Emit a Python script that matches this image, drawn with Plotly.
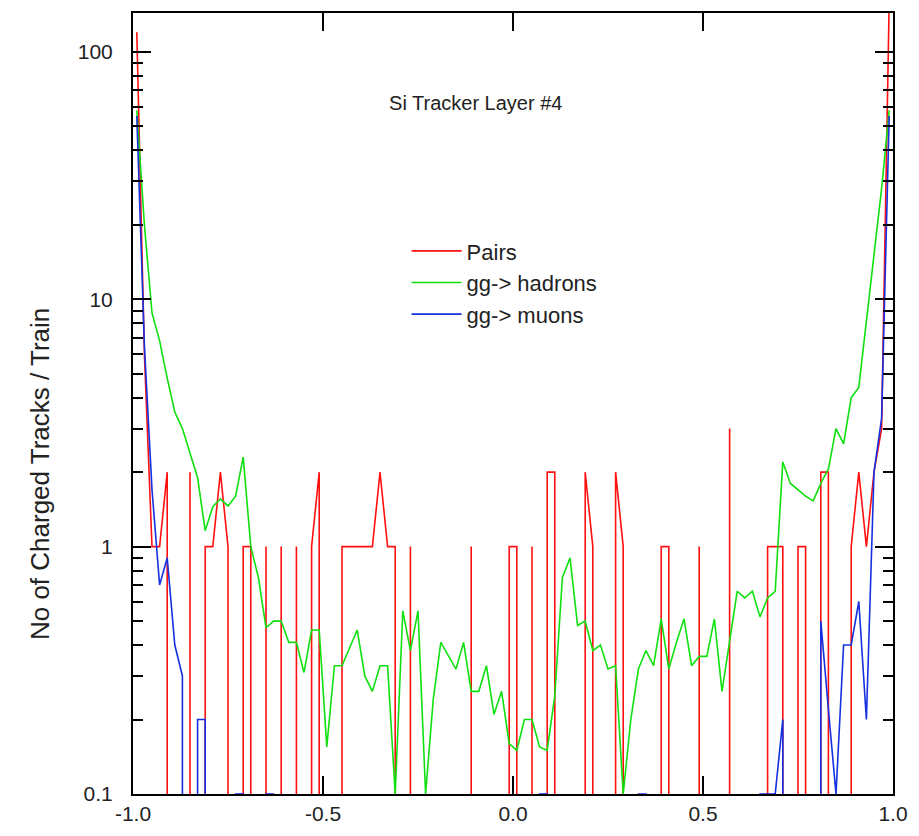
import plotly.graph_objects as go

# Bin centres in eta (100 bins of width 0.02 from -1 to 1)
n_bins = 100
eta_centres = [round(-0.99 + 0.02 * i, 2) for i in range(n_bins)]

pairs = [
    120, 6, 1, 1, 2, 0, 0, 2, 0, 1,
    1, 2, 1, 0, 1, 1, 0, 1, 0, 1,
    0, 1, 0, 1, 2, 0, 0, 1, 1, 1,
    1, 1, 2, 1, 1, 0, 1, 0, 0, 0,
    0, 0, 0, 0, 1, 0, 0, 0, 0, 1,
    1, 0, 1, 0, 2, 2, 0, 0, 0, 2,
    1, 0, 0, 2, 1, 0, 0, 0, 0, 1,
    1, 0, 0, 0, 1, 0, 0, 0, 3, 0,
    0, 0, 0, 1, 1, 1, 0, 1, 1, 0,
    2, 2, 0, 0, 1, 2, 1, 2, 3, 160,
]

hadrons = [
    58, 20, 8.8, 6.8, 4.8, 3.5, 3.0, 2.4, 1.9, 1.16,
    1.45, 1.56, 1.46, 1.6, 2.3, 1.0, 0.75, 0.47, 0.5, 0.5,
    0.41, 0.41, 0.31, 0.46, 0.46, 0.155, 0.33, 0.33, 0.39, 0.46,
    0.30, 0.26, 0.33, 0.33, 0.1, 0.55, 0.38, 0.55, 0.1, 0.24,
    0.41, 0.36, 0.32, 0.41, 0.26, 0.26, 0.33, 0.21, 0.26, 0.16,
    0.15, 0.2, 0.2, 0.155, 0.15, 0.25, 0.75, 0.9, 0.48, 0.5,
    0.38, 0.40, 0.32, 0.33, 0.1, 0.2, 0.32, 0.38, 0.33, 0.51,
    0.32, 0.41, 0.51, 0.33, 0.36, 0.36, 0.51, 0.26, 0.42, 0.66,
    0.62, 0.66, 0.52, 0.62, 0.66, 2.2, 1.8, 1.7, 1.6, 1.53,
    1.8, 2.06, 3.0, 2.6, 4.0, 4.4, 8, 15, 28, 58,
]

muons = [
    55, 6.5, 1.7, 0.7, 0.9, 0.4, 0.3, 0, 0.2, 0.2,
    0, 0, 0, 0.1, 0.1, 0, 0, 0.1, 0.1, 0,
    0, 0, 0, 0, 0, 0, 0, 0, 0, 0,
    0, 0, 0, 0, 0, 0, 0, 0, 0, 0,
    0, 0, 0, 0, 0, 0, 0, 0, 0, 0,
    0, 0, 0, 0.1, 0.1, 0, 0, 0, 0, 0,
    0, 0, 0, 0, 0, 0, 0.1, 0.1, 0, 0,
    0, 0, 0, 0, 0, 0, 0, 0, 0, 0,
    0, 0, 0.1, 0.1, 0.1, 0.2, 0, 0, 0, 0,
    0.5, 0.22, 0.1, 0.4, 0.4, 0.6, 0.2, 2, 3.3, 55,
]

series_names = ["Pairs", "gg-> hadrons", "gg-> muons"]
series_colors = ["#ff1010", "#10e010", "#1530e0"]

y_ticks = [0.1, 1, 10, 100]
y_tick_text = ["0.1", "1", "10", "100"]
y_minor = [v * m for v in (0.1, 1, 10) for m in range(2, 10)]
x_ticks = [-1.0, -0.5, 0.0, 0.5, 1.0]
x_tick_text = ["-1.0", "-0.5", "0.0", "0.5", "1.0"]
y_title = "No of Charged Tracks / Train"

FLOOR = 1e-4  # empty bins drop off the bottom of the log axis


def log_polyline(xs, ys):
    px, py = [], []
    n = len(xs)
    for i in range(n):
        if ys[i] > 0:
            if i > 0 and ys[i - 1] == 0:
                px.append(xs[i]); py.append(FLOOR)
            px.append(xs[i]); py.append(ys[i])
            if i < n - 1 and ys[i + 1] == 0:
                px.append(xs[i]); py.append(FLOOR)
    return px, py


fig = go.Figure()
for name, vals, col in zip(series_names, [pairs, hadrons, muons], series_colors):
    px, py = log_polyline(eta_centres, vals)
    fig.add_trace(go.Scatter(x=px, y=py, mode="lines", name=name,
                             line=dict(color=col, width=1.6)))

font_family = "Arial, Liberation Sans, sans-serif"
fig.update_layout(
    width=919, height=836,
    margin=dict(l=133, r=24, t=11, b=39),
    paper_bgcolor="white", plot_bgcolor="white",
    font=dict(family=font_family, size=21, color="#222"),
    title=dict(text="Si Tracker Layer #4", x=0.451, y=0.885,
               xref="paper", yref="paper", xanchor="center", yanchor="middle",
               font=dict(size=20, color="#222")),
    legend=dict(x=0.36, y=0.722, xanchor="left", yanchor="top",
                bgcolor="rgba(0,0,0,0)", font=dict(size=22, color="#222"),
                itemwidth=50),
    showlegend=True,
    annotations=[dict(text=y_title, xref="paper", yref="paper",
                      x=-0.122, y=0.41, xanchor="center", yanchor="middle",
                      textangle=-90, showarrow=False,
                      font=dict(size=26, color="#222"))],
)
fig.update_xaxes(range=[-1, 1], tickvals=x_ticks, ticktext=x_tick_text,
                 showline=True, linecolor="black", linewidth=2, mirror="allticks",
                 ticks="inside", ticklen=18, tickwidth=2, tickcolor="black",
                 showgrid=False, zeroline=False, tickfont=dict(size=21))
fig.update_yaxes(type="log", range=[-1, 2.157], tickvals=y_ticks, ticktext=y_tick_text,
                 showline=True, linecolor="black", linewidth=2, mirror="allticks",
                 ticks="inside", ticklen=18, tickwidth=2, tickcolor="black",
                 minor=dict(tickvals=y_minor, ticks="inside", ticklen=10,
                            tickwidth=2, tickcolor="black", showgrid=False),
                 showgrid=False, zeroline=False, tickfont=dict(size=21),
                 ticklabelstandoff=14)

fig.write_html("out.html")
